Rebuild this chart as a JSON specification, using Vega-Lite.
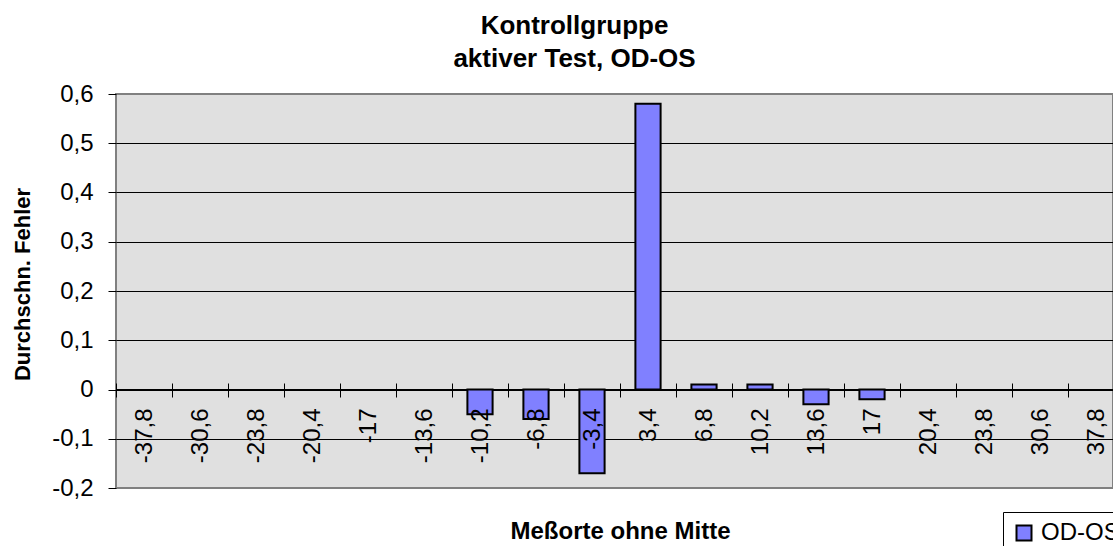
{
  "$schema": "https://vega.github.io/schema/vega-lite/v6.json",
  "width": 997,
  "height": 394,
  "autosize": {"type": "none"},
  "padding": {"left": 116, "top": 94, "right": 0, "bottom": 58},
  "background": "white",
  "config": {
    "font": "Liberation Sans",
    "view": {"fill": "#e0e0e0", "stroke": "#808080", "strokeWidth": 2}
  },
  "title": {
    "text": ["Kontrollgruppe", "aktiver Test, OD-OS"],
    "fontSize": 26,
    "fontWeight": "bold",
    "color": "black",
    "anchor": "middle",
    "dx": -40,
    "lineHeight": 33,
    "offset": 10
  },
  "data": {
    "values": [
      {"pos": "-37,8", "value": 0, "series": "OD-OS"},
      {"pos": "-30,6", "value": 0, "series": "OD-OS"},
      {"pos": "-23,8", "value": 0, "series": "OD-OS"},
      {"pos": "-20,4", "value": 0, "series": "OD-OS"},
      {"pos": "-17", "value": 0, "series": "OD-OS"},
      {"pos": "-13,6", "value": 0, "series": "OD-OS"},
      {"pos": "-10,2", "value": -0.05, "series": "OD-OS"},
      {"pos": "-6,8", "value": -0.06, "series": "OD-OS"},
      {"pos": "-3,4", "value": -0.17, "series": "OD-OS"},
      {"pos": "3,4", "value": 0.58, "series": "OD-OS"},
      {"pos": "6,8", "value": 0.01, "series": "OD-OS"},
      {"pos": "10,2", "value": 0.01, "series": "OD-OS"},
      {"pos": "13,6", "value": -0.03, "series": "OD-OS"},
      {"pos": "17", "value": -0.02, "series": "OD-OS"},
      {"pos": "20,4", "value": 0, "series": "OD-OS"},
      {"pos": "23,8", "value": 0, "series": "OD-OS"},
      {"pos": "30,6", "value": 0, "series": "OD-OS"},
      {"pos": "37,8", "value": 0, "series": "OD-OS"}
    ]
  },
  "layer": [
    {
      "mark": {"type": "bar", "stroke": "black"},
      "encoding": {
        "x": {
          "field": "pos",
          "type": "nominal",
          "sort": null,
          "scale": {"range": [0, 1008], "paddingInner": 0.55, "paddingOuter": 0.275},
          "axis": {
            "orient": "bottom",
            "offset": -105,
            "zindex": 1,
            "domain": false,
            "grid": false,
            "tickColor": "black",
            "tickSize": 14,
            "tickWidth": 1,
            "tickOffset": -28,
            "labelOffset": 28,
            "labelAngle": -90,
            "labelAlign": "right",
            "labelBaseline": "middle",
            "labelFontSize": 24,
            "labelColor": "black",
            "labelPadding": 11,
            "labelOverlap": false,
            "labelLimit": 0,
            "title": "Meßorte ohne Mitte",
            "titleFontSize": 24,
            "titleFontWeight": "bold",
            "titleColor": "black",
            "titleX": 504,
            "titleY": 155,
            "titleAlign": "center",
            "titleBaseline": "alphabetic"
          }
        },
        "y": {
          "field": "value",
          "type": "quantitative",
          "scale": {"domain": [-0.2, 0.6], "nice": false, "zero": false},
          "axis": {
            "values": [-0.2, -0.1, 0, 0.1, 0.2, 0.3, 0.4, 0.5, 0.6],
            "labelExpr": "datum.value == 0 ? '0' : (datum.value < 0 ? '-' : '') + replace(format(abs(datum.value), '.1f'), '.', ',')",
            "domain": false,
            "tickColor": "black",
            "tickSize": 8,
            "labelFontSize": 24,
            "labelColor": "black",
            "labelPadding": 15,
            "grid": true,
            "gridColor": {"condition": {"test": "datum.value > 0.55 || datum.value < -0.15", "value": "transparent"}, "value": "black"},
            "gridWidth": 1,
            "gridOpacity": 1,
            "title": "Durchschn. Fehler",
            "titleFontSize": 22,
            "titleFontWeight": "bold",
            "titleColor": "black",
            "titleAngle": -90,
            "titleX": -94,
            "titleY": 190,
            "titleAlign": "center",
            "titleBaseline": "middle"
          }
        },
        "color": {
          "field": "series",
          "type": "nominal",
          "scale": {"range": ["#8080ff"]},
          "legend": {
            "orient": "none",
            "legendX": 887,
            "legendY": 418,
            "title": null,
            "symbolType": "square",
            "symbolSize": 225,
            "symbolStrokeColor": "black",
            "symbolStrokeWidth": 2,
            "symbolOpacity": 1,
            "labelFontSize": 24,
            "labelColor": "black",
            "labelOffset": 5,
            "labelLimit": 0,
            "strokeColor": "black",
            "fillColor": "white",
            "padding": 9
          }
        },
        "strokeWidth": {"condition": {"test": "datum.value == 0", "value": 0}, "value": 2}
      }
    },
    {
      "mark": {"type": "rule", "color": "black", "strokeWidth": 1},
      "encoding": {"y": {"datum": 0}}
    }
  ]
}
